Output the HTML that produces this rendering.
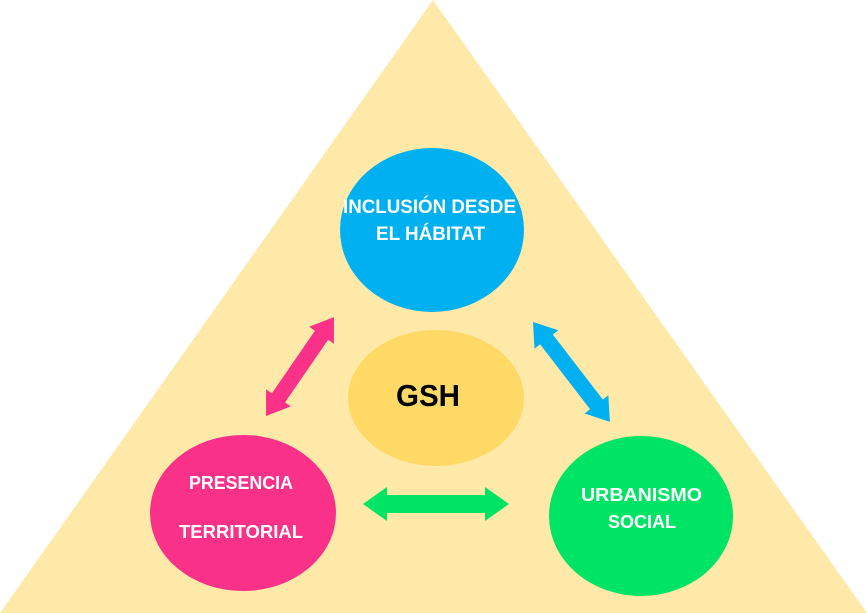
<!DOCTYPE html>
<html><head><meta charset="utf-8"><style>html,body{margin:0;padding:0;background:#fff}svg{display:block}</style></head>
<body>
<svg width="867" height="613" viewBox="0 0 867 613" xmlns="http://www.w3.org/2000/svg" font-family="Liberation Sans, sans-serif" font-weight="bold">
<polygon points="433,0 867,613 0,613" fill="#FEE9A8"/>
<ellipse cx="432" cy="230" rx="92" ry="82" fill="#00B0F0"/>
<ellipse cx="436" cy="398" rx="88" ry="68" fill="#FFD966"/>
<ellipse cx="243" cy="513" rx="93" ry="78" fill="#F93189"/>
<ellipse cx="641" cy="516" rx="92" ry="80" fill="#00E466"/>
<g transform="translate(363,504)"><polygon points="0,0 24,-17 24,-9 122,-9 122,-17 146,0 122,17 122,9 24,9 24,17" fill="#00E466"/></g>
<g transform="translate(266,416) rotate(-55.5)"><polygon points="0,0 22,-15 22,-8 98,-8 98,-15 120,0 98,15 98,8 22,8 22,15" fill="#F93189"/></g>
<g transform="translate(533,322) rotate(52.4)"><polygon points="0,0 22,-15 22,-8 104,-8 104,-15 126,0 104,15 104,8 22,8 22,15" fill="#00B0F0"/></g>
<g fill="#fff" font-size="18">
<text x="343" y="213" textLength="173" lengthAdjust="spacingAndGlyphs" font-size="19">INCLUSIÓN DESDE</text>
<text x="376" y="240" textLength="109" lengthAdjust="spacingAndGlyphs" font-size="19">EL HÁBITAT</text>
<text x="189" y="489" textLength="104" lengthAdjust="spacingAndGlyphs">PRESENCIA</text>
<text x="179" y="538" textLength="124" lengthAdjust="spacingAndGlyphs">TERRITORIAL</text>
<text x="581" y="501" textLength="121" lengthAdjust="spacingAndGlyphs">URBANISMO</text>
<text x="608" y="528" textLength="68" lengthAdjust="spacingAndGlyphs">SOCIAL</text>
</g>
<text x="396" y="406" font-size="31" fill="#000" textLength="64" lengthAdjust="spacingAndGlyphs">GSH</text>
</svg>
</body></html>
